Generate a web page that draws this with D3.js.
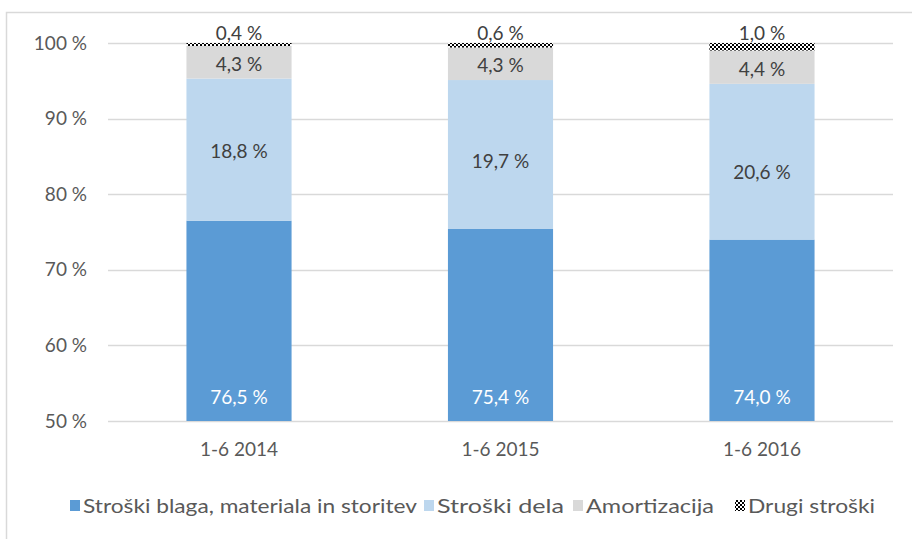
<!DOCTYPE html>
<html><head><meta charset="utf-8">
<script src="https://cdn.jsdelivr.net/npm/d3@7"></script>
<style>body{margin:0;background:#fff}text{font-family:Lato,"Open Sans",sans-serif}</style>
</head><body>
<svg id="c" width="912" height="539"></svg>
<script>
const categories = ["1-6 2014", "1-6 2015", "1-6 2016"];
const seriesNames = ["Stroški blaga, materiala in storitev", "Stroški dela", "Amortizacija", "Drugi stroški"];
const blaga = [76.5, 75.4, 74.0];
const dela = [18.8, 19.7, 20.6];
const amortizacija = [4.3, 4.3, 4.4];
const drugi = [0.4, 0.6, 1.0];
const yTicks = [50, 60, 70, 80, 90, 100];
const colors = ["#5b9bd5", "#bdd7ee", "#d9d9d9", "url(#chk)"];
const labelColors = ["#ffffff", "#404040", "#404040", "#404040"];

const svg = d3.select("#c");
const defs = svg.append("defs");
const pat = defs.append("pattern").attr("id","chk").attr("patternUnits","userSpaceOnUse").attr("width",4).attr("height",4);
pat.append("rect").attr("width",4).attr("height",4).attr("fill","#fff");
pat.append("rect").attr("width",2).attr("height",2).attr("fill","#000");
pat.append("rect").attr("x",2).attr("y",2).attr("width",2).attr("height",2).attr("fill","#000");

svg.append("rect").attr("x",6.5).attr("y",12.5).attr("width",1000).attr("height",1000).attr("fill","none").attr("stroke","#d9d9d9").attr("stroke-width",1.5);

const x = d3.scaleBand().domain(categories).range([108, 893]).paddingInner(0.598).paddingOuter(0.3);
const y = d3.scaleLinear().domain([50, 100]).range([421, 43]);

// gridlines
svg.append("g").selectAll("line").data(yTicks).join("line")
  .attr("x1",108).attr("x2",893).attr("y1",d=>Math.round(y(d))+0.5).attr("y2",d=>Math.round(y(d))+0.5)
  .attr("stroke","#d9d9d9").attr("stroke-width",1.3);

const yAxis = svg.append("g").attr("transform","translate(108,0)")
  .call(d3.axisLeft(y).tickValues(yTicks).tickSize(0).tickPadding(21).tickFormat(d=>d+" %"));
yAxis.select(".domain").remove();
yAxis.selectAll("text").attr("font-size",19).attr("fill","#595959").attr("font-family","Lato");

const xAxis = svg.append("g").attr("transform","translate(0,421)")
  .call(d3.axisBottom(x).tickSize(0).tickPadding(22));
xAxis.select(".domain").remove();
xAxis.selectAll("text").attr("font-size",19).attr("fill","#595959").attr("font-family","Lato");

const series = [blaga, dela, amortizacija, drugi];
const fmt = v => v.toFixed(1).replace(".", ",") + " %";
// small label nudges (px) per series / category, layout only
const nudge = [[0,0,0],[2,7,11],[2,2,2],[0,0,0]];
categories.forEach((c, i) => {
  let base = 0;
  series.forEach((s, k) => {
    const v = s[i];
    const y0 = base, y1 = base + v;
    base = y1;
    const top = y(Math.min(y1, 100)), bot = y(Math.max(y0, 50));
    svg.append("rect").attr("x", x(c)).attr("width", x.bandwidth())
      .attr("y", top).attr("height", Math.max(0, bot - top)).attr("fill", colors[k]);
    let ly;
    if (k === 0) ly = y(50) - 24;
    else if (k === 3) ly = y(100) - 10;
    else ly = (y(y0) + y(y1)) / 2 + nudge[k][i];
    svg.append("text").attr("x", x(c) + x.bandwidth()/2).attr("y", ly).attr("dy","0.35em")
      .attr("text-anchor","middle").attr("font-size",19).attr("fill", labelColors[k]).text(fmt(v));
  });
});

// legend
const legendX = [70, 424, 573, 735];
const legendLen = [334, 127, 128, 127];
const leg = svg.append("g");
seriesNames.forEach((n, k) => {
  leg.append("rect").attr("x", legendX[k]).attr("y", 500).attr("width", 10).attr("height", 11).attr("fill", colors[k]);
  leg.append("text").attr("x", legendX[k] + 13).attr("y", 506).attr("dy","0.35em")
    .attr("font-size",19).attr("fill","#595959")
    .attr("textLength", legendLen[k]).attr("lengthAdjust","spacingAndGlyphs").text(n);
});
</script>
</body></html>
